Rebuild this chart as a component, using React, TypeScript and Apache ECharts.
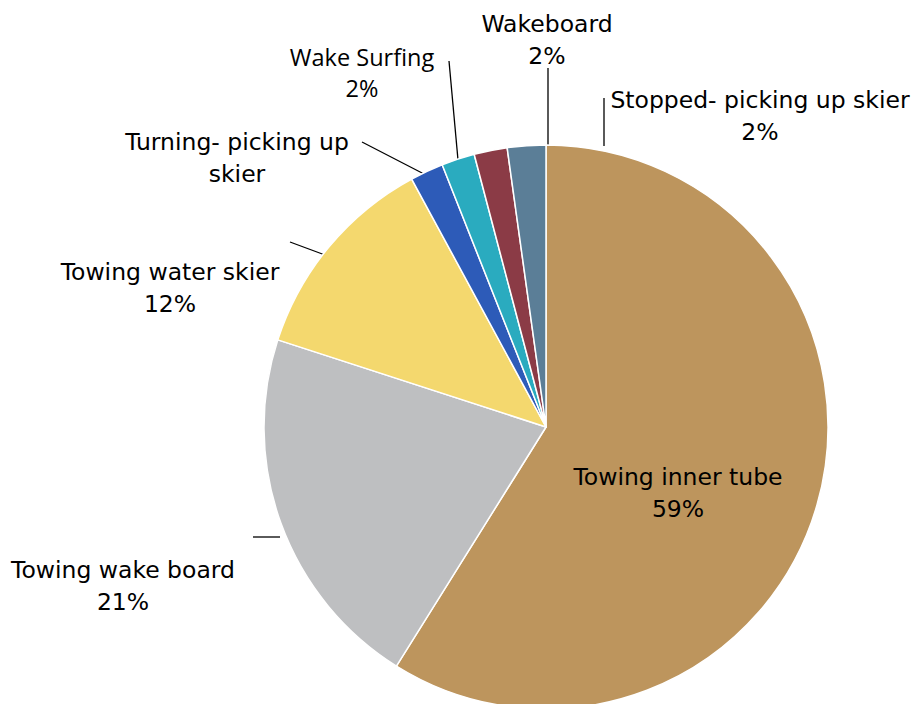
import React, { useEffect, useRef } from "react";
import * as echarts from "echarts";

const categories = [
  "Towing inner tube",
  "Towing wake board",
  "Towing water skier",
  "Turning- picking up skier",
  "Wake Surfing",
  "Wakeboard",
  "Stopped- picking up skier",
];
const shares = [58.9, 21.1, 12.1, 1.9, 1.9, 1.9, 2.2];
const colors = ["#BD955D", "#BEBFC1", "#F4D86E", "#2D5BB8", "#2AABBF", "#8B3B46", "#5B7E97"];

// label block centres and leader line points (layout only)
const labelPos: number[][] = [
  [678, 493],
  [123, 586],
  [170, 288],
  [237, 158],
  [362, 72],
  [547, 40],
  [760, 116],
];
const leaderLines: (number[][] | null)[] = [
  null,
  [[253, 537], [280, 537]],
  [[290, 242], [325, 255]],
  [[362, 142], [424, 174]],
  [[449, 61], [458, 160]],
  [[548, 68], [548, 150]],
  [[604, 98], [604, 146]],
];

export default function App() {
  const ref = useRef<HTMLDivElement>(null);
  useEffect(() => {
    document.body.style.margin = "0";
    const chart = echarts.init(ref.current!, null, { renderer: "svg" });
    const data = categories.map((name, i) => ({
      name,
      value: shares[i],
      itemStyle: { color: colors[i] },
      label:
        i === 4
          ? { fontFamily: "Open Sans", fontSize: 23.5, lineHeight: 31 }
          : undefined,
      labelLine: { show: i !== 0 },
    }));
    chart.setOption({
      animation: false,
      backgroundColor: "#ffffff",
      series: [
        {
          type: "pie",
          center: [546, 427],
          radius: 282,
          startAngle: 90,
          clockwise: true,
          percentPrecision: 0,
          data,
          itemStyle: { borderColor: "#ffffff", borderWidth: 1.5 },
          label: {
            show: true,
            position: "outside",
            color: "#000000",
            fontFamily: "DejaVu Sans",
            fontSize: 23.5,
            lineHeight: 32,
            align: "center",
            overflow: "none",
            formatter: (p: any) =>
              p.dataIndex === 3
                ? "Turning- picking up\nskier"
                : `${p.name}\n${p.percent}%`,
          },
          labelLine: {
            show: true,
            lineStyle: { color: "#000000", width: 1.3 },
          },
          labelLayout: (params: any) => {
            const i = params.dataIndex;
            const res: any = {
              x: labelPos[i][0],
              y: labelPos[i][1],
              align: "center",
              verticalAlign: "middle",
              width: 400,
            };
            if (leaderLines[i]) res.labelLinePoints = leaderLines[i];
            return res;
          },
        },
      ],
    });
    return () => chart.dispose();
  }, []);
  return <div ref={ref} style={{ width: 911, height: 704 }} />;
}
